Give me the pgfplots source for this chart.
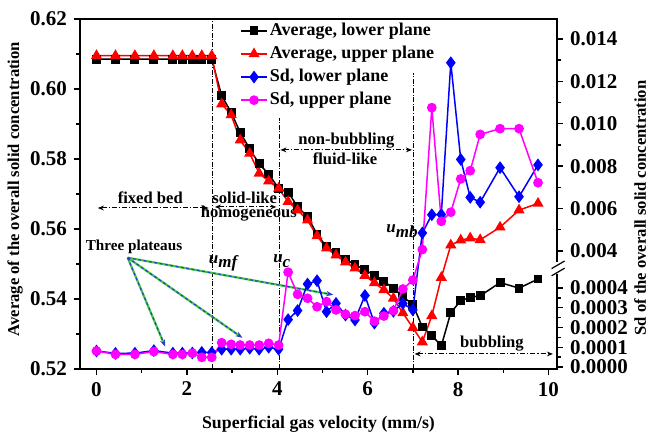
\documentclass[border=0pt]{standalone}
\usepackage{pgfplots}
\usepackage{pgfplotstable}
\pgfplotsset{compat=1.18}
\usepackage{fontspec}
\setmainfont{Liberation Serif}
\usetikzlibrary{arrows.meta}
\definecolor{cred}{RGB}{255,0,0}
\definecolor{cblue}{RGB}{0,0,255}
\definecolor{cmag}{RGB}{255,0,255}
\definecolor{agreen}{RGB}{70,200,70}
\definecolor{ablue}{RGB}{40,60,200}
\newcommand{\fs}[1]{\fontsize{#1}{#1}\selectfont\bfseries}

\pgfplotstableread{
x      avglo   avgup   sdlo      sdup
0      0.6085  0.6095  0.000081  0.000081
0.42   0.6085  0.6095  0.000069  0.000064
0.85   0.6085  0.6095  0.000070  0.000064
1.27   0.6085  0.6095  0.000083  0.000078
1.69   0.6085  0.6095  0.000070  0.000064
1.90   0.6085  0.6095  0.000070  0.000064
2.12   0.6085  0.6095  0.000071  0.000070
2.33   0.6085  0.6095  0.000074  0.000049
2.55   0.6085  0.6095  0.000073  0.000049
2.77   0.5981  0.5957  0.000090  0.000123
2.98   0.5933  0.5926  0.000090  0.000115
3.18   0.5876  0.5854  0.000090  0.000111
3.39   0.5829  0.5816  0.000095  0.000111
3.60   0.5786  0.5759  0.000090  0.000111
3.81   0.5757  0.5737  0.000100  0.000120
4.03   0.5716  0.5716  0.000090  0.000111
4.24   0.5705  0.5678  0.000240  0.000480
4.45   0.5664  0.5654  0.000286  0.000368
4.67   0.5635  0.5625  0.000420  0.000348
4.88   0.5585  0.5580  0.000437  0.000305
5.09   0.5549  0.5545  0.000280  0.000331
5.30   0.5532  0.5525  0.000322  0.000289
5.51   0.5513  0.5505  0.000263  0.000267
5.72   0.5498  0.5488  0.000238  0.000260
5.94   0.5483  0.5467  0.000362  0.000280
6.15   0.5468  0.5446  0.000222  0.000232
6.36   0.5450  0.5426  0.000272  0.000258
6.57   0.5431  0.5402  0.000282  0.000285
6.78   0.5407  0.5360  0.000322  0.000395
7.00   0.5384  0.5318  0.000289  0.000440
7.21   0.5320  0.5277  0.00485   0.00407
7.42   0.5296  0.5352  0.00571   0.01076
7.63   0.5266  0.5461  0.00572   0.00540
7.84   0.5361  0.5554  0.01288   0.00583
8.06   0.5395  0.5568  0.00832   0.00740
8.27   0.5405  0.5574  0.00653   0.00779
8.49   0.5409  0.5569  0.00630   0.00950
8.93   0.5447  0.5605  0.00793   0.00977
9.35   0.5431  0.5654  0.00656   0.00977
9.77   0.5457  0.5673  0.00806   0.00722
}\datatable

\tikzset{
 vl/.style={line width=0.45pt, dash pattern=on 2.5pt off 0.8pt on 0.5pt off 0.8pt},
 dd/.style={line width=0.5pt, dash pattern=on 2.5pt off 1pt on 0.6pt off 1pt, {Stealth[length=3pt,width=2.4pt]}-{Stealth[length=3pt,width=2.4pt]}},
 ann/.style={font=\fs{8.3}, inner sep=0.5pt},
 tp/.style={ablue, line width=0.55pt, dash pattern=on 1.5pt off 1.2pt, -{Stealth[length=3.5pt,width=2.6pt]}},
 tg/.style={agreen, line width=1.1pt, shorten >=2pt},
}

\begin{document}
\begin{tikzpicture}
\path[use as bounding box] (-40pt,-32.5pt) rectangle (285pt,184.5pt);
\begin{axis}[
 name=avg,
 scale only axis, width=238.5pt, height=175pt,
 xmin=-0.365, xmax=10.19, ymin=0.52, ymax=0.62,
 axis line style={line width=0.8pt},
 xtick={0,2,4,6,8,10}, minor xtick={1,3,5,7,9},
 ytick={0.52,0.54,0.56,0.58,0.60,0.62},
 yticklabels={0.52,0.54,0.56,0.58,0.60,0.62},
 minor ytick={0.53,0.55,0.57,0.59,0.61},
 xtick pos=lower, ytick pos=lower, tick align=outside,
 major tick length=3pt, minor tick length=1.8pt,
 tick style={line width=0.7pt, black},
 /pgf/number format/assume math mode=true,
 ticklabel style={font=\fs{10.5}},
 xlabel={Superficial gas velocity (mm/s)},
 ylabel={Average of the overall solid concentration},
 xlabel style={font=\fs{8.9}, at={(axis description cs:0.5,-0.158)}, anchor=center},
 ylabel style={font=\fs{8.3}, at={(axis description cs:-0.136,0.514)}, anchor=center},
 clip=false,
 every axis plot/.append style={line width=0.75pt},
]
% annotations
\draw[vl] (2.555,0.52) -- (2.555,0.62);
\draw[vl] (4.04,0.52) -- (4.04,0.5917);
\draw[vl] (7.01,0.52) -- (7.01,0.6046);
\draw[dd] (0.03,0.566) -- (2.48,0.566);
\draw[dd] (2.62,0.5663) -- (3.98,0.5663);
\draw[dd] (4.07,0.5826) -- (6.98,0.5826);
\draw[dd] (7.04,0.5243) -- (10.1,0.5243);
\node[ann] at (1.19,0.5688) {fixed bed};
\node[ann] at (3.28,0.5688) {solid-like};
\node[ann] at (3.37,0.5643) {homogeneous};
\node[ann] at (5.53,0.5852) {non-bubbling};
\node[ann] at (5.5,0.5800) {fluid-like};
\node[ann] at (8.75,0.5274) {bubbling};
\node[ann, font=\fs{8.5}\itshape] at (2.80,0.5502) {u\raisebox{-0.55ex}{mf}};
\node[ann, font=\fs{8.5}\itshape] at (4.10,0.5508) {u\raisebox{-0.55ex}{c}};
\node[ann, font=\fs{8.5}\itshape] at (6.76,0.5594) {u\raisebox{-0.55ex}{mb}};
\node[ann, font=\fs{7.6}] at (0.83,0.5549) {Three plateaus};
\draw[tg] (0.69,0.5518) -- (1.52,0.5264);
\draw[tg] (0.69,0.5518) -- (3.23,0.5289);
\draw[tg] (0.69,0.5518) -- (5.24,0.5412);
\draw[tp] (0.69,0.5518) -- (1.52,0.5264);
\draw[tp] (0.69,0.5518) -- (3.23,0.5289);
\draw[tp] (0.69,0.5518) -- (5.24,0.5412);
\addplot[black, mark=square*, mark size=1.85pt] table[x=x, y=avglo] \datatable;
\addplot[cred, mark=triangle*, mark size=2.5pt] table[x=x, y=avgup] \datatable;
\end{axis}

% right axis: broken scale, 1 unit = 0.5pt of height
% lower part: 0.0001 per 19.75 units; upper part: 0.002 per 42.4 units
\begin{axis}[
 name=sd,
 scale only axis, width=238.5pt, height=175pt,
 xmin=-0.365, xmax=10.19, ymin=0, ymax=350,
 y filter/.expression={ifthenelse(y<0.002, 2+y*197500, 118+(y-0.004)*21200)},
 axis x line=none, axis y line*=right,
 axis line style={line width=0.8pt},
 ytick={2,21.75,41.5,61.25,81,118,160.4,202.8,245.2,287.6,330},
 yticklabels={0.0000,0.0001,0.0002,0.0003,0.0004,0.004,0.006,0.008,0.010,0.012,0.014},
 minor ytick={11.875,31.625,51.375,71.125,139.2,181.6,224,266.4,308.8},
 tick align=outside,
 major tick length=3pt, minor tick length=1.8pt,
 tick style={line width=0.7pt, black},
 ticklabel style={font=\fs{10.5}},
 ylabel={Sd of the overall solid concentration},
 ylabel style={font=\fs{8.3}, at={(axis description cs:1.174,0.46)}, anchor=center},
 clip=false,
 every axis plot/.append style={line width=0.75pt},
 legend style={at={(axis description cs:0.335,0.995)}, anchor=north west,
   draw=none, fill=none, font=\fs{9}, row sep=1.8pt, inner sep=0pt,
   nodes={inner sep=1pt}},
 legend cell align=left,
 legend image code/.code={\draw[mark repeat=2,mark phase=2] plot coordinates {(0cm,0cm) (0.23cm,0cm) (0.46cm,0cm)};},
]
\addlegendimage{black, mark=square*, mark size=1.85pt, line width=0.75pt}
\addlegendentry{Average, lower plane}
\addlegendimage{cred, mark=triangle*, mark size=2.5pt, line width=0.75pt}
\addlegendentry{Average, upper plane}
\addplot[cblue, mark=diamond*, mark size=2.6pt] table[x=x, y=sdlo] \datatable;
\addlegendentry{Sd, lower plane}
\addplot[cmag, mark=*, mark size=2.05pt] table[x=x, y=sdup] \datatable;
\addlegendentry{Sd, upper plane}
\end{axis}
% axis break on the right axis
\fill[white] (236.5pt,47.3pt) rectangle (241pt,53.3pt);
\draw[line width=0.6pt] (235.8pt,46.6pt) -- (242.3pt,50.4pt);
\draw[line width=0.6pt] (235.8pt,50.2pt) -- (242.3pt,54pt);
\end{tikzpicture}
\end{document}
